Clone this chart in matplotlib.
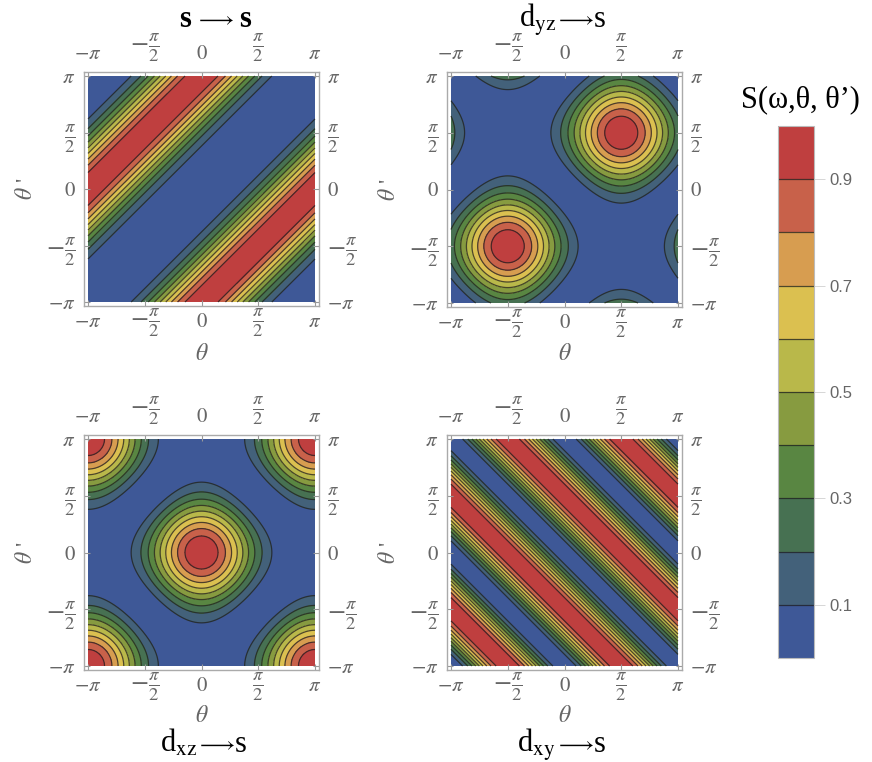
import numpy as np
import matplotlib
matplotlib.use("Agg")
import matplotlib.pyplot as plt
from matplotlib.transforms import offset_copy

plt.rcParams['font.family'] = ['Liberation Serif', 'DejaVu Serif']
plt.rcParams['mathtext.fontset'] = 'stix'

pi = np.pi

# contour levels and the colour of each band (low -> high)
levels = [0.0, 0.1, 0.2, 0.3, 0.4, 0.5, 0.6, 0.7, 0.8, 0.9, 1.0]
band_colors = ['#3e5897', '#43617a', '#477152', '#598642', '#879b40',
               '#b9b84a', '#dbc050', '#d79d50', '#c8614a', '#bf3f3f']
cbar_ticks = [0.1, 0.3, 0.5, 0.7, 0.9]
cbar_title = "S(ω,θ, θ’)"

tick_vals = [-pi, -pi / 2, 0, pi / 2, pi]
tick_labels = [r"$-\pi$", r"$-\frac{\pi}{2}$", r"$0$", r"$\frac{\pi}{2}$", r"$\pi$"]
tick_is_frac = [False, True, False, True, False]

# titles: left part, right part, arrow centre (px), baseline (px)
title_left = ["s", r"d$_{\rm yz}$", r"d$_{\rm xz}$", r"d$_{\rm xy}$"]
title_right = ["s", "s", "s", "s"]
title_arrow_x = [215, 575, 216, 575]
title_base_y = [27, 27, 752, 752]
title_gap = [6, 1, 1, 1]

# intensities as squared amplitudes on the (theta, theta') grid
th = np.linspace(-pi, pi, 500)
T, Tp = np.meshgrid(th, th)
Z_ss = ((1 - np.cos(T - Tp)) / 2) ** 2        # s -> s
Z_dyz = ((np.sin(T) + np.sin(Tp)) / 2) ** 2    # d_yz -> s
Z_dxz = ((np.cos(T) + np.cos(Tp)) / 2) ** 2    # d_xz -> s
Z_dxy = np.sin(T + Tp) ** 2                    # d_xy -> s
fields = [Z_ss, Z_dyz, Z_dxz, Z_dxy]

# pixel boxes of the coloured regions (x0, x1, y0, y1)
W, H = 872, 762
boxes = [(88, 315, 76, 302), (451, 678, 76, 303),
         (88, 315, 439, 666), (451, 678, 439, 666)]
pad = 4
gray = '#666666'
frac_size = 19

fig = plt.figure(figsize=(W / 100, H / 100), dpi=100)

for i, (Z, (x0, x1, y0, y1)) in enumerate(zip(fields, boxes)):
    ax = fig.add_axes([(x0 - pad) / W, 1 - (y1 + pad) / H,
                       (x1 - x0 + 2 * pad) / W, (y1 - y0 + 2 * pad) / H])
    Z = np.clip(Z, 0, 0.9999)
    cf = ax.contourf(T, Tp, Z, levels=levels, colors=band_colors)
    cl = ax.contour(T, Tp, Z, levels=levels[1:-1], colors='#1e1e1e',
                    linewidths=0.9, alpha=0.75)
    dx = pad / (x1 - x0) * 2 * pi
    dy = pad / (y1 - y0) * 2 * pi
    ax.set_xlim(-pi - dx, pi + dx)
    ax.set_ylim(-pi - dy, pi + dy)
    ax.set_xticks(tick_vals)
    ax.set_xticklabels(tick_labels)
    ax.set_yticks(tick_vals)
    ax.set_yticklabels(tick_labels)
    ax.tick_params(top=True, right=True, labeltop=False, labelright=True,
                   direction='in', length=4, width=0.8, color='#999999',
                   labelcolor=gray, labelsize=15)
    ax.tick_params(axis='x', pad=12)
    ax.tick_params(axis='y', pad=6)
    for t in ax.xaxis.get_major_ticks():
        t.label1.set_verticalalignment('center')
    for lab_list in (ax.get_xticklabels(), ax.yaxis.get_ticklabels(),
                     [t.label2 for t in ax.yaxis.get_major_ticks()]):
        for lab, frac in zip(lab_list, tick_is_frac):
            if frac:
                lab.set_fontsize(frac_size)

    # labels along the top edge, bottom-aligned like the reference
    top_tr = offset_copy(ax.get_xaxis_transform(), fig=fig, y=6, units='points')
    for v, lab, frac in zip(tick_vals, tick_labels, tick_is_frac):
        ax.text(v, 1, lab, transform=top_tr, ha='center', va='bottom',
                fontsize=frac_size if frac else 15, color=gray)

    for s in ax.spines.values():
        s.set_color('#aaaaaa')
        s.set_linewidth(1.0)

    cx = (x0 + x1) / 2
    cy = (y0 + y1) / 2
    fig.text((x0 - 62) / W, 1 - cy / H, r"$\theta$ '", rotation=90,
             ha='center', va='center', fontsize=17, color=gray)
    ty = 355 if i < 2 else 717
    fig.text(cx / W, 1 - ty / H, r"$\theta$", ha='center', va='center',
             fontsize=17, color=gray)

# titles built from three pieces so the arrow keeps the reference length
arrow_w = 36
for i in range(4):
    ax_ = title_arrow_x[i]
    by = 1 - title_base_y[i] / H
    weight = 'bold' if i == 0 else 'normal'
    fig.text((ax_ - arrow_w / 2 - title_gap[i]) / W, by, title_left[i],
             ha='right', va='baseline', fontsize=22, fontweight=weight)
    fig.text(ax_ / W, by + 2 / H, r"$\longrightarrow$", ha='center',
             va='baseline', fontsize=16)
    fig.text((ax_ + arrow_w / 2 + title_gap[i]) / W, by, title_right[i],
             ha='left', va='baseline', fontsize=22, fontweight=weight)

# colour legend
cax = fig.add_axes([778 / W, 1 - 658 / H, 36 / W, 532 / H])
cbar = fig.colorbar(cf, cax=cax, ticks=cbar_ticks)
cbar.add_lines(cl)
cbar.outline.set_edgecolor('#bbbbbb')
cbar.outline.set_linewidth(0.8)
cax.tick_params(length=8, width=0.6, color='#d0d0d0', labelcolor=gray,
                labelsize=12, pad=3)
cax.set_yticklabels([f"{v:.1f}" for v in cbar_ticks])
for lab in cax.get_yticklabels():
    lab.set_family(['Liberation Sans', 'DejaVu Sans'])
fig.text(800 / W, 1 - 107 / H, cbar_title, ha='center', va='baseline', fontsize=22)

fig.savefig("out.png", dpi=100)
